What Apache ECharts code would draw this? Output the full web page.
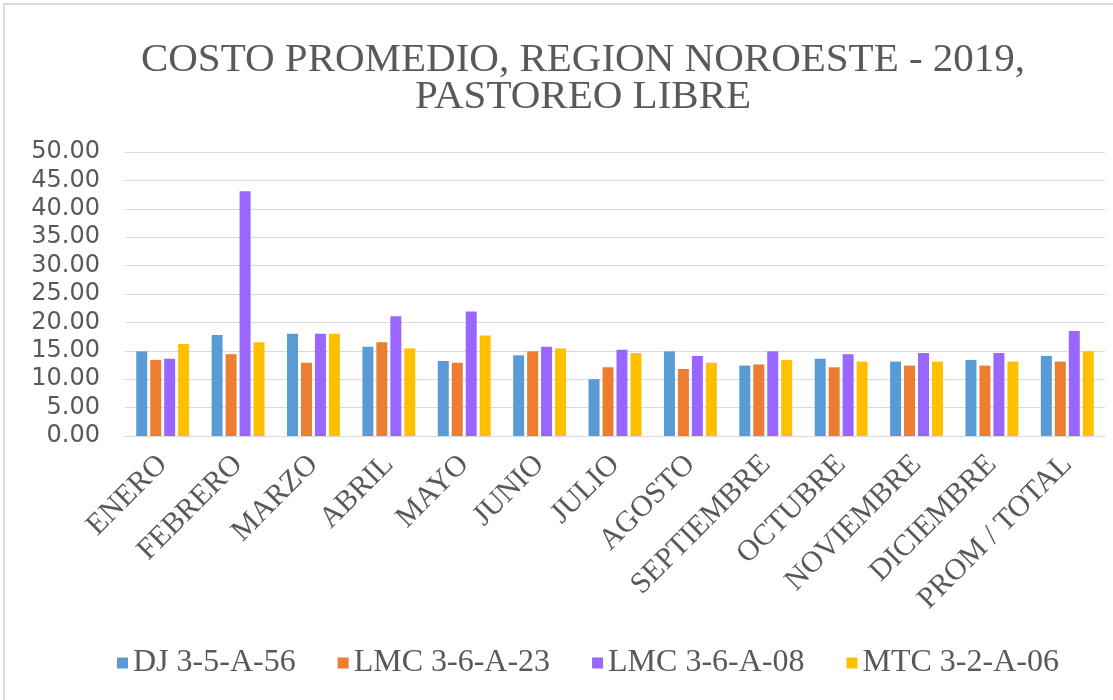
<!DOCTYPE html>
<html>
<head>
<meta charset="utf-8">
<script src="https://cdn.jsdelivr.net/npm/echarts@6/dist/echarts.min.js"></script>
<style>
  html, body { margin: 0; padding: 0; background: #fff; }
  #frame { position: absolute; left: 3px; top: 3px; width: 1120px; height: 710px; border: 2px solid #d9d9d9; }
  #chart { position: absolute; left: 0; top: 0; width: 1113px; height: 700px; }
</style>
</head>
<body>
<div id="frame"></div>
<div id="chart"></div>
<script>
// meses
var categories = ['ENERO', 'FEBRERO', 'MARZO', 'ABRIL', 'MAYO', 'JUNIO', 'JULIO',
  'AGOSTO', 'SEPTIEMBRE', 'OCTUBRE', 'NOVIEMBRE', 'DICIEMBRE', 'PROM / TOTAL'];

var seriesNames = ['DJ 3-5-A-56', 'LMC 3-6-A-23', 'LMC 3-6-A-08', 'MTC 3-2-A-06'];

var dj_3_5_a_56  = [14.9, 17.8, 18.0, 15.7, 13.2, 14.2, 10.0, 14.9, 12.4, 13.6, 13.1, 13.4, 14.1];
var lmc_3_6_a_23 = [13.4, 14.4, 12.9, 16.5, 12.9, 14.9, 12.1, 11.8, 12.6, 12.1, 12.4, 12.4, 13.1];
var lmc_3_6_a_08 = [13.6, 43.1, 18.0, 21.1, 21.9, 15.7, 15.2, 14.1, 14.9, 14.4, 14.6, 14.6, 18.5];
var mtc_3_2_a_06 = [16.2, 16.5, 18.0, 15.4, 17.7, 15.4, 14.6, 12.9, 13.4, 13.1, 13.1, 13.1, 14.9];

var colors = ['#5b9bd5', '#ed7d31', '#9966ff', '#ffc000'];
var serif = '"Liberation Serif", "DejaVu Serif", serif';

var chart = echarts.init(document.getElementById('chart'));

function barSeries(name, data) {
  return {
    name: name,
    type: 'bar',
    barWidth: 11,
    barGap: '27%',
    data: data
  };
}

var option = {
  backgroundColor: 'transparent',
  color: colors,
  animation: false,
  title: {
    text: 'COSTO PROMEDIO, REGION NOROESTE - 2019,\nPASTOREO LIBRE',
    left: 578,
    textAlign: 'center',
    top: 37,
    textStyle: {
      fontFamily: serif,
      fontWeight: 'normal',
      fontSize: 41,
      lineHeight: 37,
      color: '#595959'
    }
  },
  grid: {
    left: 125,
    right: 8,
    top: 152,
    bottom: 264,
    containLabel: false
  },
  legend: {
    bottom: 16,
    left: 112,
    icon: 'rect',
    itemWidth: 11,
    itemHeight: 11,
    itemGap: 42,
    textStyle: {
      fontFamily: serif,
      fontSize: 32,
      color: '#595959'
    },
    data: seriesNames
  },
  xAxis: {
    type: 'category',
    data: categories,
    axisLine: { lineStyle: { color: '#d9d9d9', width: 1 } },
    axisTick: { show: false },
    axisLabel: {
      rotate: 45,
      interval: 0,
      margin: 24,
      fontFamily: serif,
      fontSize: 30,
      color: '#595959'
    }
  },
  yAxis: {
    type: 'value',
    min: 0,
    max: 50,
    interval: 5,
    axisLine: { show: false },
    axisTick: { show: false },
    splitLine: { lineStyle: { color: '#d9d9d9', width: 1 } },
    axisLabel: {
      margin: 25,
      fontFamily: '"DejaVu Sans", sans-serif',
      fontSize: 24,
      color: '#595959',
      formatter: function (v) { return v.toFixed(2); }
    }
  },
  series: [
    barSeries(seriesNames[0], dj_3_5_a_56),
    barSeries(seriesNames[1], lmc_3_6_a_23),
    barSeries(seriesNames[2], lmc_3_6_a_08),
    barSeries(seriesNames[3], mtc_3_2_a_06)
  ]
};

chart.setOption(option);
</script>
</body>
</html>
